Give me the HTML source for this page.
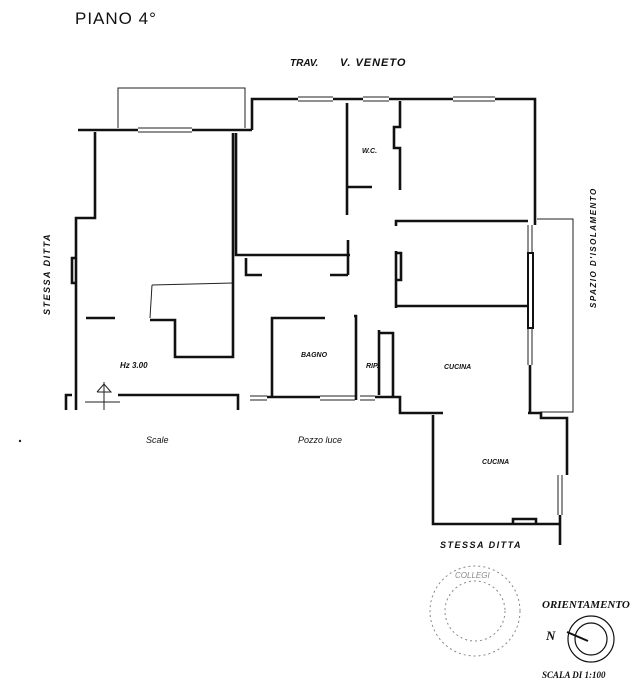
<!DOCTYPE html>
<html><head><meta charset="utf-8"><style>
html,body{margin:0;padding:0;background:#fff;}
svg{display:block}
text{font-family:"Liberation Sans",sans-serif;font-style:italic;fill:#111}
</style></head><body>
<svg width="637" height="679" viewBox="0 0 637 679" xmlns="http://www.w3.org/2000/svg">
<rect width="637" height="679" fill="#fff"/>
<text x="75" y="24" font-size="17" style="font-style:normal" letter-spacing="1">PIANO 4°</text>
<text x="290" y="66" font-size="10" font-weight="bold">TRAV.</text>
<text x="340" y="66" font-size="11" font-weight="bold" letter-spacing="1">V. VENETO</text>

<g fill="none" stroke="#222" stroke-width="1">
<polyline points="118,128 118,88 245,88 245,128"/>
<polyline points="537,219 573,219 573,412 540,412"/>
<polyline points="152,285 233,283"/>
<polyline points="152,285 150,318"/>
<line x1="138" y1="128" x2="192" y2="128"/><line x1="138" y1="132" x2="192" y2="132"/>
<line x1="298" y1="97" x2="333" y2="97"/><line x1="298" y1="101" x2="333" y2="101"/>
<line x1="363" y1="97" x2="389" y2="97"/><line x1="363" y1="101" x2="389" y2="101"/>
<line x1="453" y1="97" x2="495" y2="97"/><line x1="453" y1="101" x2="495" y2="101"/>
<line x1="528" y1="225" x2="528" y2="253"/><line x1="532" y1="225" x2="532" y2="253"/>
<line x1="528" y1="328" x2="528" y2="365"/><line x1="532" y1="328" x2="532" y2="365"/>
<line x1="558" y1="475" x2="558" y2="515"/><line x1="562" y1="475" x2="562" y2="515"/>
<line x1="250" y1="396" x2="267" y2="396"/><line x1="250" y1="400" x2="267" y2="400"/>
<line x1="320" y1="396" x2="355" y2="396"/><line x1="320" y1="400" x2="355" y2="400"/>
<line x1="360" y1="396" x2="375" y2="396"/><line x1="360" y1="400" x2="375" y2="400"/>
<line x1="104" y1="382" x2="104" y2="410"/>
<polyline points="97,392 104,384 111,392 97,392"/>
<line x1="85" y1="402" x2="120" y2="402"/>
</g>

<g fill="none" stroke="#111" stroke-width="2.6" stroke-linejoin="miter">
<line x1="78" y1="130" x2="138" y2="130"/>
<line x1="192" y1="130" x2="252" y2="130"/>
<polyline points="252,130 252,99 298,99"/>
<polyline points="95,132 95,218 76,218 76,410"/>
<polyline points="76,258 72,258 72,283 76,283"/>
<line x1="86" y1="318" x2="115" y2="318"/>
<polyline points="233,133 233,357 175,357 175,320 150,320"/>
<polyline points="118,395 238,395 238,410"/>
<polyline points="72,395 66,395 66,410"/>
<line x1="333" y1="99" x2="363" y2="99"/>
<line x1="389" y1="99" x2="453" y2="99"/>
<polyline points="495,99 535,99 535,225"/>
<polyline points="236,133 236,255 350,255"/>
<line x1="348" y1="240" x2="348" y2="275"/>
<polyline points="246,258 246,275 262,275"/>
<line x1="330" y1="275" x2="348" y2="275"/>
<polyline points="347,103 347,215"/>
<line x1="347" y1="187" x2="372" y2="187"/>
<polyline points="400,101 400,127 394,127 394,148 400,148 400,190"/>
<polyline points="396,226 396,221 528,221"/>
<polyline points="396,251 396,308"/>
<polyline points="396,253 401,253 401,280 396,280"/>
<line x1="396" y1="306" x2="528" y2="306"/>
<rect x="528" y="253" width="5" height="75" stroke-width="2"/>
<line x1="530" y1="365" x2="530" y2="413"/>
<polyline points="528,413 541,413 541,418 567,418 567,475"/>
<polyline points="272,396 272,318 325,318"/>
<polyline points="354,316 356,316 356,400"/>
<polyline points="379,330 379,395"/>
<polyline points="380,333 393,333 393,396"/>
<line x1="267" y1="397" x2="320" y2="397"/>
<polyline points="375,397 400,397 400,413 443,413"/>
<polyline points="433,415 433,524 560,524"/>
<polyline points="513,524 513,519 536,519 536,524"/>
<line x1="560" y1="515" x2="560" y2="545"/>
</g>

<text x="362" y="153" font-size="7" font-weight="bold">W.C.</text>
<text x="301" y="357" font-size="7" font-weight="bold">BAGNO</text>
<text x="366" y="368" font-size="7" font-weight="bold">RIP.</text>
<text x="444" y="369" font-size="7" font-weight="bold">CUCINA</text>
<text x="482" y="464" font-size="7" font-weight="bold">CUCINA</text>
<text x="120" y="368" font-size="8" font-weight="bold">Hz 3.00</text>
<text x="146" y="443" font-size="9">Scale</text>
<text x="298" y="443" font-size="9">Pozzo luce</text>
<text x="440" y="548" font-size="9" font-weight="bold" letter-spacing="1.5">STESSA DITTA</text>
<text transform="translate(50,315) rotate(-90)" font-size="9" font-weight="bold" letter-spacing="1.5">STESSA DITTA</text>
<text transform="translate(596,308) rotate(-90)" font-size="8" font-weight="bold" letter-spacing="1.5">SPAZIO D'ISOLAMENTO</text>

<g fill="none" stroke="#888" stroke-width="1" stroke-dasharray="2,3">
<circle cx="475" cy="611" r="45"/>
<circle cx="475" cy="611" r="30"/>
</g>
<text x="455" y="578" font-size="8" style="fill:#888">COLLEGI</text>

<text x="542" y="608" font-size="11" font-weight="bold" style="font-family:'Liberation Serif',serif;font-style:italic">ORIENTAMENTO</text>
<circle cx="591" cy="639" r="23" fill="none" stroke="#111" stroke-width="1.2"/>
<circle cx="591" cy="639" r="16" fill="none" stroke="#111" stroke-width="1.2"/>
<line x1="567" y1="632" x2="588" y2="641" stroke="#111" stroke-width="2"/>
<text x="546" y="640" font-size="13" font-weight="bold" style="font-family:'Liberation Serif',serif">N</text>
<text x="542" y="678" font-size="9" font-weight="bold" style="font-family:'Liberation Serif',serif">SCALA DI 1:100</text>
<circle cx="20" cy="441" r="1.2" fill="#222"/>
</svg>
</body></html>
